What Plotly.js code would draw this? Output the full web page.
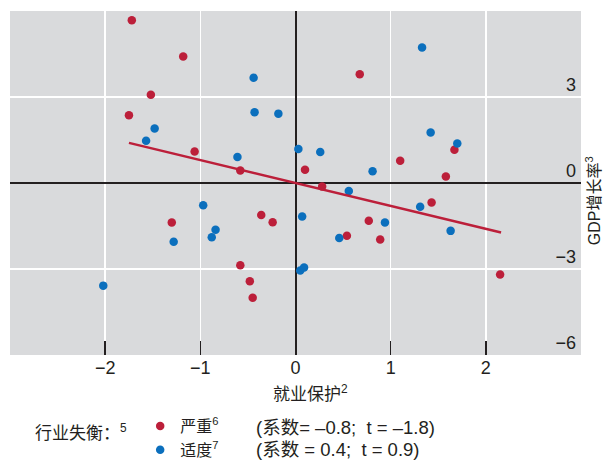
<!DOCTYPE html>
<html>
<head>
<meta charset="utf-8">
<script src="https://cdn.plot.ly/plotly-3.0.1.min.js"></script>
<style>html,body{margin:0;padding:0;background:#fff;}#chart{width:603px;height:462px;}</style>
</head>
<body>
<div id="chart"></div>
<script>
// Severe sectoral imbalance (red)
const severeX = [-1.72, -1.18, -1.52, -1.75, -1.06, -0.58, 0.675, 1.67, 1.10, 1.58, 0.10, 0.28, 1.43, -1.30, -0.36, -0.24, 0.77, 0.54, 0.89, -0.58, -0.48, -0.45, 2.15];
const severeY = [5.68, 4.41, 3.08, 2.36, 1.10, 0.44, 3.79, 1.16, 0.78, 0.23, 0.46, -0.12, -0.68, -1.38, -1.12, -1.37, -1.32, -1.84, -1.97, -2.87, -3.43, -4.00, -3.19];
// Moderate sectoral imbalance (blue)
const moderateX = [-0.44, -0.43, -0.18, -1.48, -1.57, -0.61, 0.03, 1.33, 1.42, 1.70, 0.26, 0.81, 0.56, -0.97, -0.84, -0.88, -1.28, 0.07, -2.02, 0.05, 0.09, 1.31, 0.94, 0.46, 1.63];
const moderateY = [3.67, 2.47, 2.42, 1.90, 1.47, 0.91, 1.19, 4.73, 1.76, 1.38, 1.08, 0.41, -0.28, -0.78, -1.63, -1.89, -2.05, -1.17, -3.58, -3.05, -2.95, -0.83, -1.38, -1.92, -1.67];
// Fitted line for severe group (endpoints)
const fitX = [-1.75, 2.16];
const fitY = [1.40, -1.73];
const xTicks = [-2, -1, 0, 1, 2];
const xTickText = ['−2', '−1', '0', '1', '2'];
const yTicks = [-6, -3, 0, 3];
const yTickText = ['−6', '−3', '0', '3'];

const RED = '#bc1f3a';
const BLUE = '#0b6fbd';
const FONT = 'Liberation Sans, Arial, Noto Sans CJK SC, sans-serif';
const TXT = '#231f20';

const traces = [
  {x: severeX, y: severeY, type: 'scatter', mode: 'markers', name: '严重<sup>6</sup>',
   marker: {color: RED, size: 8.5}, cliponaxis: false},
  {x: moderateX, y: moderateY, type: 'scatter', mode: 'markers', name: '适度<sup>7</sup>',
   marker: {color: BLUE, size: 8.5}, cliponaxis: false},
  {x: fitX, y: fitY, type: 'scatter', mode: 'lines', showlegend: false,
   line: {color: RED, width: 2.5}, hoverinfo: 'skip'}
];

const layout = {
  width: 603, height: 462,
  margin: {l: 10, r: 22, t: 11, b: 107, autoexpand: false},
  paper_bgcolor: '#ffffff',
  plot_bgcolor: '#d9dadc',
  font: {family: FONT, color: TXT, size: 18},
  showlegend: true,
  legend: {x: 0.228, xanchor: 'left', y: -0.157, yanchor: 'top', orientation: 'v',
           font: {size: 16, color: TXT}, itemwidth: 30, tracegroupgap: 0,
           bgcolor: 'rgba(0,0,0,0)'},
  xaxis: {
    range: [-3, 3], tickvals: xTicks, ticktext: xTickText,
    showgrid: true, gridcolor: '#ffffff', gridwidth: 1.5,
    zeroline: true, zerolinecolor: '#231f20', zerolinewidth: 2,
    ticks: 'inside', ticklen: 14, tickwidth: 1.5, tickcolor: '#231f20',
    tickfont: {size: 18, color: TXT}, showline: false, fixedrange: true, automargin: false
  },
  yaxis: {
    range: [-6, 6], tickvals: yTicks, ticktext: yTickText,
    side: 'right', ticklabelposition: 'inside', ticklabelshift: -12, ticklabelstandoff: 2,
    ticklabeloverflow: 'allow',
    showgrid: true, gridcolor: '#ffffff', gridwidth: 1.5,
    zeroline: true, zerolinecolor: '#231f20', zerolinewidth: 2,
    ticks: '', tickfont: {size: 18, color: TXT}, showline: false, fixedrange: true, automargin: false
  },
  annotations: [
    {text: '就业保护<sup>2</sup>', xref: 'x', yref: 'paper', x: 0.16, y: -0.11,
     xanchor: 'center', yanchor: 'middle', showarrow: false, font: {size: 17, color: TXT}},
    {text: 'GDP增长率<sup>3</sup>', xref: 'paper', yref: 'paper', x: 1.021, y: 0.45,
     xanchor: 'center', yanchor: 'middle', textangle: -90, showarrow: false,
     font: {size: 16, color: TXT}},
    {text: '行业失衡：<sup>5</sup>', xref: 'paper', yref: 'paper', x: (33 - 10) / 571, y: -0.224,
     xanchor: 'left', yanchor: 'middle', showarrow: false, font: {size: 17, color: TXT}},
    {text: '(系数= –0.8;\u00a0\u00a0t = –1.8)', xref: 'paper', yref: 'paper', x: (254 - 10) / 571, y: -0.210,
     xanchor: 'left', yanchor: 'middle', showarrow: false, font: {size: 18.5, color: TXT}},
    {text: '(系数 = 0.4;\u00a0\u00a0t = 0.9)', xref: 'paper', yref: 'paper', x: (254 - 10) / 571, y: -0.276,
     xanchor: 'left', yanchor: 'middle', showarrow: false, font: {size: 18.5, color: TXT}}
  ]
};

Plotly.newPlot('chart', traces, layout, {displayModeBar: false, staticPlot: true});
</script>
</body>
</html>
